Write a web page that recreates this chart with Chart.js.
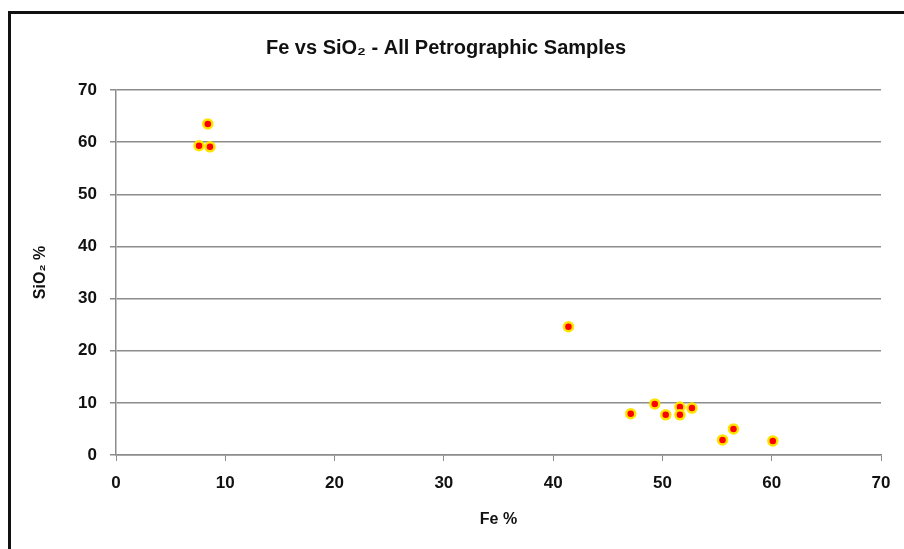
<!DOCTYPE html>
<html>
<head>
<meta charset="utf-8">
<script src="https://cdn.jsdelivr.net/npm/chart.js@4/dist/chart.umd.min.js"></script>
<style>
  body { margin: 0; background: #fff; }
  #frame { position: absolute; left: 8px; top: 11px; width: 893px; height: 535px;
           border-top: 3px solid #111; border-left: 3px solid #111; }
</style>
</head>
<body>
<div id="frame"><canvas id="myChart" width="893" height="535"></canvas></div>
<script>
// Fe % (x) and SiO2 % (y) for every petrographic sample
const feValues   = [7.6, 8.4, 8.6, 41.4, 47.1, 49.3, 50.3, 51.6, 51.6, 52.7, 56.5, 55.5, 60.1];
const sio2Values = [59.3, 63.5, 59.1, 24.6, 7.9, 9.8, 7.7, 9.2, 7.7, 9.0, 5.0, 2.9, 2.7];
const xTicks = [0, 10, 20, 30, 40, 50, 60, 70];
const yTicks = [0, 10, 20, 30, 40, 50, 60, 70];

const points = feValues.map((fe, i) => ({ x: fe, y: sio2Values[i] }));
const fontFam = '"Liberation Sans", Arial, sans-serif';

const ctx = document.getElementById('myChart');
const scatter = new Chart(ctx, {
  type: 'scatter',
  data: {
    datasets: [{
      label: 'Samples',
      data: points,
      pointStyle: 'circle',
      pointRadius: 4.5,
      backgroundColor: '#ff0000',
      borderColor: '#ffe400',
      borderWidth: 2.5
    }]
  },
  options: {
    responsive: false,
    animation: false,
    layout: { padding: { left: 0, right: 23, top: 0, bottom: 0 } },
    plugins: {
      legend: { display: false },
      tooltip: { enabled: false },
      title: {
        display: true,
        text: 'Fe vs SiO\u2082 - All Petrographic Samples',
        color: '#111',
        font: { family: fontFam, size: 20, weight: 'bold' },
        padding: { top: 22, bottom: 30 }
      }
    },
    scales: {
      x: {
        type: 'linear',
        min: 0, max: 70,
        afterBuildTicks: s => { s.ticks = xTicks.map(v => ({ value: v })); },
        afterFit: s => { s.height = 94; },
        grid: { drawOnChartArea: false, drawTicks: true, tickLength: 6, color: '#8c8c8c' },
        border: { color: '#8c8c8c', width: 1.5 },
        ticks: { color: '#111', padding: 12, font: { family: fontFam, size: 17, weight: 'bold' } },
        title: {
          display: true, text: 'Fe %', color: '#111',
          font: { family: fontFam, size: 16, weight: 'bold' },
          padding: { top: 20, bottom: 20 }
        }
      },
      y: {
        type: 'linear',
        min: 0, max: 70,
        afterBuildTicks: s => { s.ticks = yTicks.map(v => ({ value: v })); },
        afterFit: s => { s.width = 105; },
        grid: { drawTicks: true, tickLength: 6, color: '#8c8c8c', lineWidth: 1.5 },
        border: { color: '#8c8c8c', width: 1.5 },
        ticks: { color: '#111', padding: 13, font: { family: fontFam, size: 17, weight: 'bold' } },
        title: {
          display: true, text: 'SiO\u2082 %', color: '#111',
          font: { family: fontFam, size: 16, weight: 'bold' },
          padding: { top: 20, bottom: 20 }
        }
      }
    }
  }
});
</script>
</body>
</html>
